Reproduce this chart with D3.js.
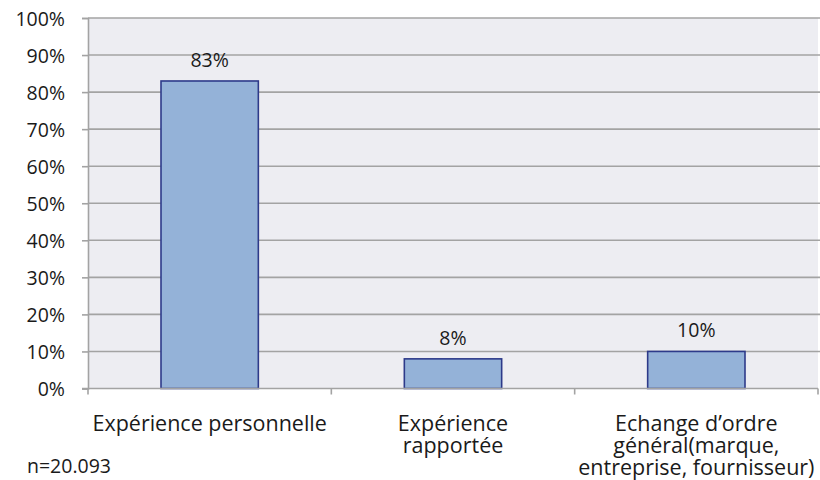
<!DOCTYPE html>
<html>
<head>
<meta charset="utf-8">
<script src="https://cdn.jsdelivr.net/npm/d3@7"></script>
<style>
  html, body { margin: 0; padding: 0; background: #ffffff; }
  svg { display: block; font-family: "Open Sans", "Noto Sans", sans-serif; }
</style>
</head>
<body>
<svg id="chart" width="820" height="480"></svg>
<script>
// Share of respondents by type of exchange
const categories = [
  ["Expérience personnelle"],
  ["Expérience", "rapportée"],
  ["Echange d’ordre", "général(marque,", "entreprise, fournisseur)"]
];
const values = [83, 8, 10];
const valueLabels = ["83%", "8%", "10%"];
const yTicks = [0, 10, 20, 30, 40, 50, 60, 70, 80, 90, 100];
const note = "n=20.093";

const svg = d3.select("#chart");
const plot = { left: 88, right: 818, top: 18, bottom: 388.5 };
const ink = "#1a1a1a";
const gridColor = "#a3a3a3";

const x = d3.scaleBand()
  .domain(d3.range(categories.length))
  .range([plot.left, plot.right])
  .paddingInner(0)
  .paddingOuter(0);

const y = d3.scaleLinear().domain([0, 100]).range([plot.bottom, plot.top]);

// plot background
svg.append("rect")
  .attr("x", plot.left).attr("y", plot.top)
  .attr("width", plot.right - plot.left).attr("height", plot.bottom - plot.top)
  .attr("fill", "#ededf2");

// horizontal gridlines
svg.append("g")
  .selectAll("line")
  .data(yTicks.filter(d => d > 0))
  .join("line")
  .attr("x1", plot.left).attr("x2", plot.right + 2)
  .attr("y1", d => y(d)).attr("y2", d => y(d))
  .attr("stroke", gridColor)
  .attr("stroke-width", 1.6);

// y axis
const yAxis = svg.append("g")
  .attr("transform", `translate(${plot.left},0)`)
  .call(d3.axisLeft(y).tickValues(yTicks).tickFormat(d => d + "%").tickSize(6).tickPadding(17));
yAxis.select(".domain").attr("stroke", gridColor).attr("stroke-width", 1.6);
yAxis.selectAll(".tick line").attr("stroke", gridColor).attr("stroke-width", 1.6);
yAxis.selectAll(".tick text")
  .attr("fill", ink)
  .attr("dy", "0.36em")
  .style("font-size", "19.5px")
  .style("font-family", "\"Open Sans\", \"Noto Sans\", sans-serif");

// bars
const barW = x.bandwidth() * 0.4;
svg.append("g")
  .selectAll("rect")
  .data(values)
  .join("rect")
  .attr("x", (d, i) => x(i) + (x.bandwidth() - barW) / 2)
  .attr("y", d => y(d))
  .attr("width", barW)
  .attr("height", d => y(0) - y(d))
  .attr("fill", "#94b2d8")
  .attr("stroke", "#2d3a8a")
  .attr("stroke-width", 1.6);

// value labels
svg.append("g")
  .selectAll("text")
  .data(values)
  .join("text")
  .attr("x", (d, i) => x(i) + x.bandwidth() / 2)
  .attr("y", d => y(d) - 14)
  .attr("text-anchor", "middle")
  .attr("fill", ink)
  .style("font-size", "19.5px")
  .text((d, i) => valueLabels[i]);

// x axis line with category separators
const xAxis = svg.append("g");
xAxis.append("line")
  .attr("x1", plot.left - 6).attr("x2", plot.right)
  .attr("y1", plot.bottom).attr("y2", plot.bottom)
  .attr("stroke", gridColor).attr("stroke-width", 1.6);
xAxis.selectAll("line.sep")
  .data(d3.range(categories.length + 1))
  .join("line")
  .attr("class", "sep")
  .attr("x1", i => i < categories.length ? x(i) : plot.right)
  .attr("x2", i => i < categories.length ? x(i) : plot.right)
  .attr("y1", plot.bottom).attr("y2", plot.bottom + 6)
  .attr("stroke", gridColor).attr("stroke-width", 1.6);

// category labels, one text per category with a tspan per line
const catText = svg.append("g")
  .selectAll("text")
  .data(categories)
  .join("text")
  .attr("text-anchor", "middle")
  .attr("fill", ink)
  .style("font-size", "21.5px");
catText.selectAll("tspan")
  .data((d, i) => d.map(line => ({ line, i })))
  .join("tspan")
  .attr("x", d => x(d.i) + x.bandwidth() / 2)
  .attr("y", (d, j) => 431 + j * 22)
  .text(d => d.line);

// sample size note
svg.append("text")
  .attr("x", 27).attr("y", 473)
  .attr("fill", ink)
  .style("font-size", "19.5px")
  .text(note);
</script>
</body>
</html>
